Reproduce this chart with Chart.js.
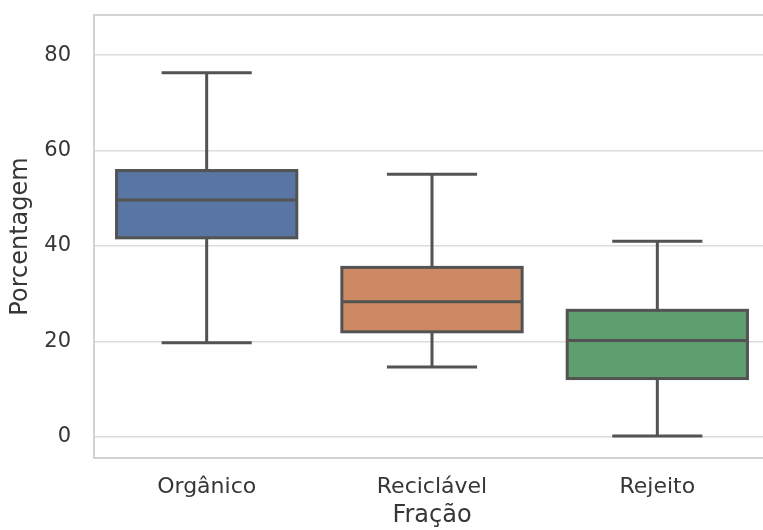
<!DOCTYPE html>
<html>
<head>
<meta charset="utf-8">
<script src="https://cdn.jsdelivr.net/npm/chart.js@4.4.1/dist/chart.umd.min.js"></script>
<style>
  html, body { margin: 0; padding: 0; background: #ffffff; overflow: hidden; }
  #wrap { width: 780px; height: 530px; }
</style>
</head>
<body>
<div id="wrap"><canvas id="c" width="780" height="530"></canvas></div>
<script>
// Categories and five-number summaries per fraction
const categories = ['Orgânico', 'Reciclável', 'Rejeito'];
const whiskerLow  = [19.7, 14.6, 0.15];
const quartile1   = [41.7, 22.0, 12.2];
const medians     = [49.6, 28.3, 20.2];
const quartile3   = [55.8, 35.5, 26.5];
const whiskerHigh = [76.3, 55.0, 41.0];
const yTicks      = [0, 20, 40, 60, 80];
const boxColors   = ['#5875a4', '#cc8963', '#5f9e6e'];

const LINE = '#535353';
const GRID = '#dcdcdc';
const TEXT = '#363636';
const FONT = "'DejaVu Sans', sans-serif";

// Box outlines, whiskers, caps, medians and the axes frame, drawn through the chart scales
const boxExtras = {
  id: 'boxExtras',
  beforeDatasetsDraw(chart) {
    const { ctx, chartArea: a } = chart;
    ctx.save();
    ctx.strokeStyle = '#d2d2d2';
    ctx.lineWidth = 2;
    ctx.beginPath();
    ctx.moveTo(a.right + 20, a.top); ctx.lineTo(a.left, a.top);
    ctx.lineTo(a.left, a.bottom); ctx.lineTo(a.right + 20, a.bottom);
    ctx.stroke();
    ctx.restore();
  },
  afterDatasetsDraw(chart) {
    const { ctx } = chart;
    const xs = chart.scales.x, ys = chart.scales.y;
    const meta = chart.getDatasetMeta(0);
    ctx.save();
    ctx.strokeStyle = LINE;
    ctx.lineWidth = 3;
    ctx.lineCap = 'butt';
    ctx.lineJoin = 'miter';
    categories.forEach((_, i) => {
      const bar = meta.data[i];
      const half = bar.width / 2;
      const cap = half / 2;
      const x = xs.getPixelForValue(i);
      const yLo = ys.getPixelForValue(whiskerLow[i]);
      const yQ1 = ys.getPixelForValue(quartile1[i]);
      const yMed = ys.getPixelForValue(medians[i]);
      const yQ3 = ys.getPixelForValue(quartile3[i]);
      const yHi = ys.getPixelForValue(whiskerHigh[i]);
      ctx.strokeRect(x - half, yQ3, 2 * half, yQ1 - yQ3);
      ctx.beginPath();
      ctx.moveTo(x, yQ3); ctx.lineTo(x, yHi);
      ctx.moveTo(x - cap, yHi); ctx.lineTo(x + cap, yHi);
      ctx.moveTo(x, yQ1); ctx.lineTo(x, yLo);
      ctx.moveTo(x - cap, yLo); ctx.lineTo(x + cap, yLo);
      ctx.moveTo(x - half, yMed); ctx.lineTo(x + half, yMed);
      ctx.stroke();
    });
    ctx.restore();
  }
};

new Chart(document.getElementById('c'), {
  type: 'bar',
  data: {
    labels: categories,
    datasets: [{
      data: categories.map((_, i) => [quartile1[i], quartile3[i]]),
      backgroundColor: boxColors,
      borderWidth: 0,
      categoryPercentage: 0.8,
      barPercentage: 1.0
    }]
  },
  options: {
    responsive: false,
    animation: false,
    layout: { padding: { top: 15, right: 10, bottom: 0, left: 0 } },
    plugins: { legend: { display: false }, tooltip: { enabled: false } },
    scales: {
      x: {
        offset: true,
        grid: { display: false, drawTicks: false },
        border: { display: false },
        ticks: { color: TEXT, font: { family: FONT, size: 22 }, padding: 16 },
        title: {
          display: true, text: 'Fração', color: TEXT,
          font: { family: FONT, size: 24 }, padding: { top: 0, bottom: 0 }
        },
        afterFit(scale) { scale.height = 72; scale.paddingLeft = 0; scale.paddingRight = 0; }
      },
      y: {
        min: -4.45,
        max: 88.4,
        afterBuildTicks(scale) { scale.ticks = yTicks.map(v => ({ value: v })); },
        grid: { color: GRID, lineWidth: 1.5, drawTicks: false },
        border: { display: false },
        ticks: { color: TEXT, font: { family: FONT, size: 21 }, padding: 23 },
        title: {
          display: true, text: 'Porcentagem', color: TEXT,
          font: { family: FONT, size: 24 }, padding: { top: 6, bottom: 0 }
        },
        afterFit(scale) { scale.width = 94; scale.paddingTop = 0; scale.paddingBottom = 0; }
      }
    }
  },
  plugins: [boxExtras]
});
</script>
</body>
</html>
